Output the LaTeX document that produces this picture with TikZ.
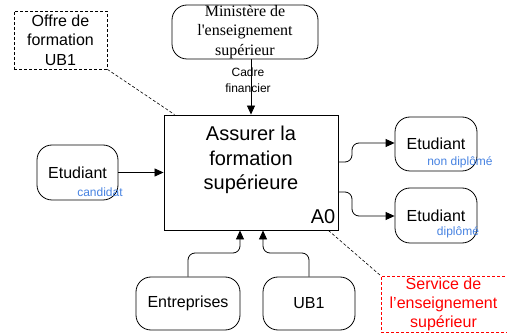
\documentclass[tikz,border=0pt]{standalone}
\usepackage{fontspec}
\setmainfont{Liberation Sans}
\newfontfamily\serifface[Ligatures=TeXOff]{Liberation Serif}
\usetikzlibrary{arrows.meta}
\definecolor{qualblue}{RGB}{70,130,225}
\begin{document}
\begin{tikzpicture}[x=1pt,y=-1pt,
  actor/.style={draw, rounded corners=15pt, line width=0.8pt, inner sep=0pt,
    align=center, font=\fontsize{16}{19}\selectfont},
  notebox/.style={draw, dash pattern=on 3pt off 2pt, line width=0.7pt, inner sep=0pt,
    align=center, font=\fontsize{16}{19.5}\selectfont},
  flow/.style={-{Triangle[length=9pt,width=8pt]}, line width=0.8pt},
  link/.style={dash pattern=on 3pt off 2pt, line width=0.6pt},
  qual/.style={text=qualblue, font=\fontsize{12}{14}\selectfont, inner sep=0pt}
]
\useasboundingbox (0,0) rectangle (507,334);

% activity box
\node[draw, line width=0.9pt, minimum width=174pt, minimum height=115pt] (main) at (251,172.5) {};
\node[align=center, font=\fontsize{20}{24.5}\selectfont] (mainText) at (251,160)
  {Assurer la\\formation\\supérieure};
\node[font=\fontsize{20}{24}\selectfont, inner sep=0pt] (a0) at (323,217) {A0};

% actors
\node[actor, font=\serifface\fontsize{16}{19.5}\selectfont, minimum width=146pt, minimum height=54pt] (min) at (245,32)
  {Ministère de\\l'enseignement\\supérieur};
\node[actor, minimum width=81pt, minimum height=55pt] (etc) at (77.5,172.5) {Etudiant};
\node[actor, minimum width=82pt, minimum height=54pt] (et1) at (436,144) {Etudiant};
\node[actor, minimum width=82pt, minimum height=55pt] (et2) at (436,215.5) {Etudiant};
\node[actor, minimum width=104pt, minimum height=53pt] (ent) at (188,303.5) {Entreprises};
\node[actor, minimum width=92pt, minimum height=53pt] (ub) at (309,303.5) {UB1};

% qualifiers
\node[qual] (qc) at (100,192) {candidat};
\node[qual] (qn) at (460,162) {non diplômé};
\node[qual] (qd) at (458,232) {diplômé};

% notes
\node[notebox, minimum width=93pt, minimum height=58pt] (offre) at (60.5,40)
  {Offre de\\formation\\UB1};
\node[notebox, draw=red, minimum width=129pt, minimum height=56pt] (svc) at (445.5,304) {};
\node[text=red, align=center, font=\fontsize{16}{19}\selectfont] (svcText) at (443.5,304)
  {Service de\\l’enseignement\\supérieur};

% control
\draw[flow] (main.north |- min.south) -- (main.north);
\node[align=center, font=\fontsize{12}{16}\selectfont, inner sep=0pt] (cadre) at (248,80.5)
  {Cadre\\financier};

% input
\draw[flow] (etc.east) -- (main.west);

% outputs
\draw[flow, rounded corners=7pt] (main.east |- 0,162) -- (352,162) -- (352,143) -- (et1.west |- 0,143);
\draw[flow, rounded corners=7pt] (main.east |- 0,192) -- (352,192) -- (352,216) -- (et2.west |- 0,216);

% mechanisms
\draw[flow, rounded corners=7pt] (ent.north) -- (188,253) -| ([xshift=-11pt]main.south);
\draw[flow, rounded corners=7pt] (ub.north) -- (309,253) -| ([xshift=12pt]main.south);

% note links
\draw[link] (offre.south east) -- ([xshift=11pt]main.north west);
\draw[link] ([xshift=-10pt]main.south east) -- (svc.north west);
\end{tikzpicture}
\end{document}
